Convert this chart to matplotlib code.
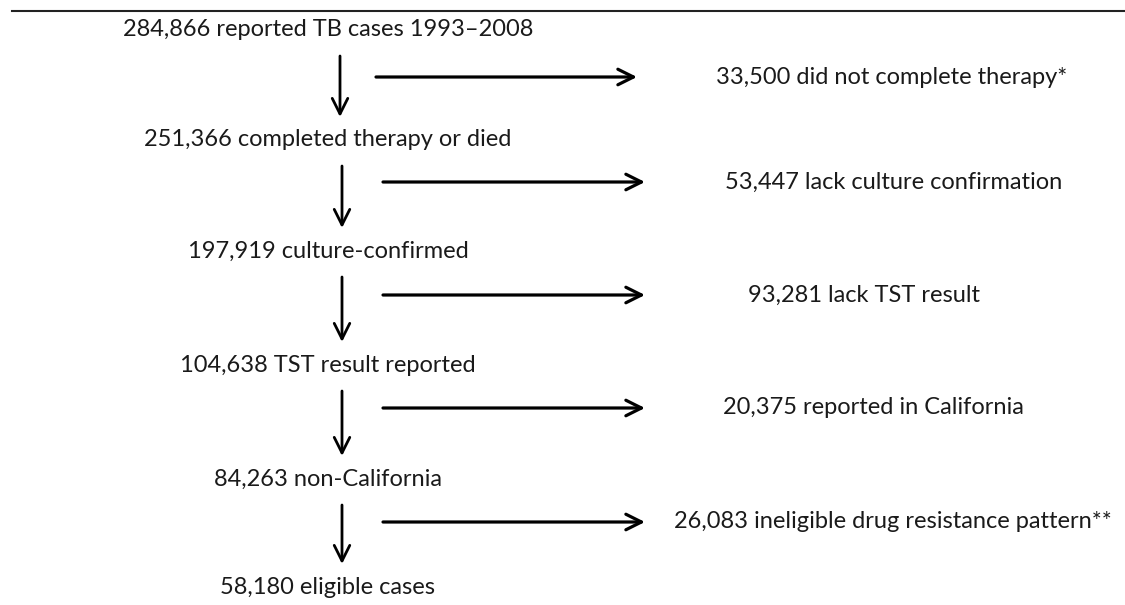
import matplotlib.pyplot as plt

# flow-diagram data: counts remaining (left) and excluded (right)
kept_counts = [284866, 251366, 197919, 104638, 84263, 58180]
kept_labels = ["reported TB cases 1993\u20132008", "completed therapy or died",
               "culture-confirmed", "TST result reported", "non-California",
               "eligible cases"]
excl_counts = [33500, 53447, 93281, 20375, 26083]
excl_labels = ["did not complete therapy*", "lack culture confirmation",
               "lack TST result", "reported in California",
               "ineligible drug resistance pattern**"]

# layout (pixels, y down)
kept_x = 328
kept_y = [30, 140, 251, 365, 479, 587]
excl_x = [892, 894, 864, 873, 893]
excl_y = [77, 182, 295, 408, 522]
varrow_x = [340, 342, 342, 342, 342]
harrow_x0 = [376, 383, 383, 383, 383]
harrow_x1 = [637, 645, 645, 645, 645]

plt.rcParams['font.family'] = ['Lato', 'DejaVu Sans']

fig = plt.figure(figsize=(11.25, 6.05), dpi=100)
ax = fig.add_axes([0, 0, 1, 1])
ax.set_xlim(0, 1125)
ax.set_ylim(605, 0)
ax.axis('off')

ax.plot([12, 1125], [11, 11], color='#222222', lw=1.5)

fs = 17
for i in range(len(kept_counts)):
    ax.text(kept_x, kept_y[i], f"{kept_counts[i]:,} {kept_labels[i]}",
            ha='center', va='center', fontsize=fs, color='#1a1a1a')

for i in range(len(excl_counts)):
    ax.text(excl_x[i], excl_y[i], f"{excl_counts[i]:,} {excl_labels[i]}",
            ha='center', va='center', fontsize=fs, color='#1a1a1a')
    # arrow down to next step
    y0 = kept_y[i] + 26
    y1 = kept_y[i + 1] - 23
    ax.annotate('', xy=(varrow_x[i], y1), xytext=(varrow_x[i], y0),
                arrowprops=dict(arrowstyle='->', lw=2, color='black',
                                mutation_scale=28, shrinkA=0, shrinkB=0))
    # arrow across to exclusion
    ax.annotate('', xy=(harrow_x1[i], excl_y[i]), xytext=(harrow_x0[i], excl_y[i]),
                arrowprops=dict(arrowstyle='->', lw=2.3, color='black',
                                mutation_scale=28, shrinkA=0, shrinkB=0))

fig.savefig('out.png', dpi=100)
